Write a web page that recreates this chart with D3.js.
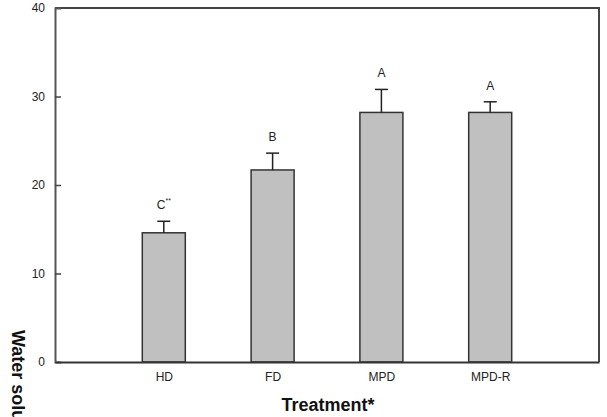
<!DOCTYPE html>
<html>
<head>
<meta charset="utf-8">
<script src="https://cdn.jsdelivr.net/npm/d3@7"></script>
<style>
body { margin: 0; background: #fff; }
text { font-family: "Liberation Sans", Arial, sans-serif; }
</style>
</head>
<body>
<svg id="chart" width="607" height="417"></svg>
<script>
// data
var categories = ["HD", "FD", "MPD", "MPD-R"];
var means = [14.6, 21.7, 28.2, 28.2];
var errors = [1.3, 1.9, 2.6, 1.2];
var letters = ["C", "B", "A", "A"];
var stars = ["**", "", "", ""];
var yTicks = [0, 10, 20, 30, 40];

var margin = {left: 55, top: 8, right: 8, bottom: 55};
var width = 607, height = 417;

var svg = d3.select("#chart");

var x = d3.scalePoint()
	.domain(categories)
	.range([margin.left, width - margin.right])
	.padding(1);

var y = d3.scaleLinear()
	.domain([0, 40])
	.range([height - margin.bottom, margin.top]);

var barW = 43;
var capW = 13;

// frame top + right
svg.append("path")
	.attr("d", "M" + margin.left + "," + y(40) + "H" + (width - margin.right) + "V" + y(0))
	.attr("fill", "none")
	.attr("stroke", "#444")
	.attr("stroke-width", 2);

// bars
svg.selectAll("rect.bar")
	.data(categories)
	.enter().append("rect")
	.attr("class", "bar")
	.attr("x", function(d){ return x(d) - barW / 2; })
	.attr("y", function(d, i){ return y(means[i]); })
	.attr("width", barW)
	.attr("height", function(d, i){ return y(0) - y(means[i]); })
	.attr("fill", "#c0c0c0")
	.attr("stroke", "#333")
	.attr("stroke-width", 1.5);

// error bars (upper only)
svg.selectAll("line.err")
	.data(categories)
	.enter().append("line")
	.attr("class", "err")
	.attr("x1", function(d){ return x(d); })
	.attr("x2", function(d){ return x(d); })
	.attr("y1", function(d, i){ return y(means[i]); })
	.attr("y2", function(d, i){ return y(means[i] + errors[i]); })
	.attr("stroke", "#222")
	.attr("stroke-width", 1.5);

svg.selectAll("line.cap")
	.data(categories)
	.enter().append("line")
	.attr("class", "cap")
	.attr("x1", function(d){ return x(d) - capW / 2; })
	.attr("x2", function(d){ return x(d) + capW / 2; })
	.attr("y1", function(d, i){ return y(means[i] + errors[i]); })
	.attr("y2", function(d, i){ return y(means[i] + errors[i]); })
	.attr("stroke", "#222")
	.attr("stroke-width", 1.5);

// significance letters
var lab = svg.selectAll("text.letter")
	.data(categories)
	.enter().append("text")
	.attr("class", "letter")
	.attr("x", function(d){ return x(d); })
	.attr("y", function(d, i){ return y(means[i] + errors[i]) - 12; })
	.attr("text-anchor", "middle")
	.attr("font-size", 12)
	.attr("fill", "#222")
	.text(function(d, i){ return letters[i]; });
lab.append("tspan")
	.attr("font-size", 7)
	.attr("dy", -6)
	.text(function(d, i){ return stars[i]; });

// y axis
var yAxis = d3.axisLeft(y)
	.tickValues(yTicks)
	.tickSize(-6)
	.tickPadding(10);
var gy = svg.append("g")
	.attr("transform", "translate(" + margin.left + ",0)")
	.call(yAxis);
gy.select(".domain").attr("stroke", "#555").attr("stroke-width", 2);
gy.selectAll(".tick line").attr("stroke", "#444").attr("stroke-width", 1.5)
	.filter(function(d){ return d === 0 || d === 40; }).remove();
gy.selectAll(".tick text").attr("font-size", 12).attr("fill", "#222")
	.attr("font-family", "Liberation Sans, Arial, sans-serif");

// x axis
var xAxis = d3.axisBottom(x).tickSize(0).tickPadding(10);
var gx = svg.append("g")
	.attr("transform", "translate(0," + y(0) + ")")
	.call(xAxis);
gx.select(".domain").attr("stroke", "#333").attr("stroke-width", 2);
gx.selectAll(".tick text").attr("font-size", 12).attr("fill", "#222")
	.attr("font-family", "Liberation Sans, Arial, sans-serif");

// axis titles
svg.append("text")
	.attr("x", 328)
	.attr("y", 411)
	.attr("text-anchor", "middle")
	.attr("font-size", 18)
	.attr("font-weight", "bold")
	.attr("fill", "#111")
	.text("Treatment*");

// y title runs off the bottom edge in the original figure
svg.append("text")
	.attr("transform", "translate(12,330) rotate(90)")
	.attr("font-size", 18)
	.attr("font-weight", "bold")
	.attr("fill", "#111")
	.text("Water solubility (%)");
</script>
</body>
</html>
